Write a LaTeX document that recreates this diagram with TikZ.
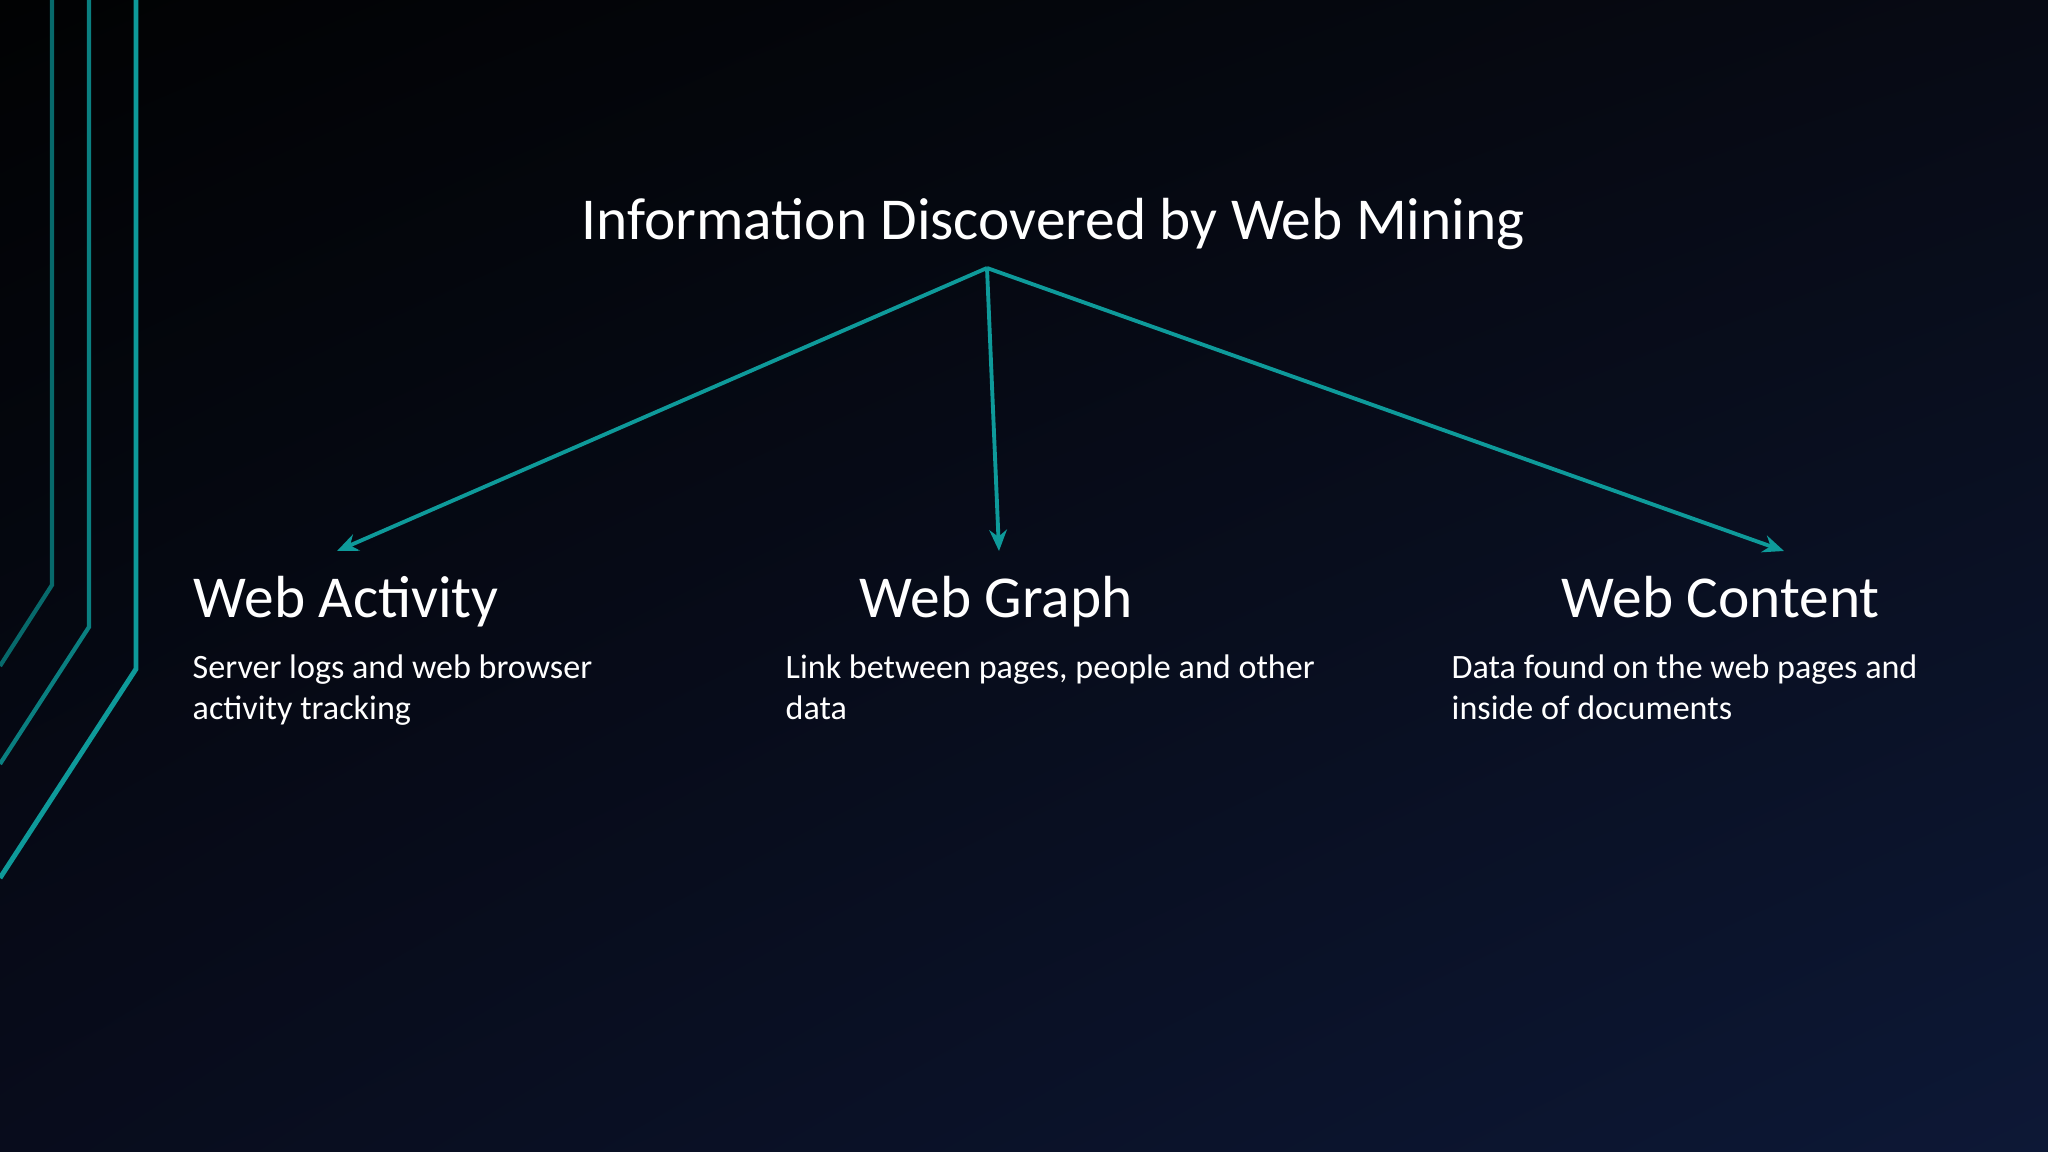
\documentclass[tikz,border=0pt]{standalone}
\usepackage{fontspec}
\setmainfont{Carlito}
\usetikzlibrary{arrows.meta,shadings}
\definecolor{teal1}{HTML}{0E9A9A}
\definecolor{teal2}{HTML}{0A7F80}
\definecolor{teal3}{HTML}{07696B}
\definecolor{bgA}{HTML}{010203}
\definecolor{bgC}{HTML}{070A14}
\definecolor{bgD}{HTML}{080C1C}
\definecolor{bgB}{HTML}{0D1836}
\tikzset{
  conn/.style={draw=teal1, line width=1.1pt, -{Stealth[length=6pt,width=5pt]}},
  head/.style={text=white, anchor=base west, font=\fontsize{16.9}{20}\selectfont, inner sep=0},
  body/.style={text=white, anchor=base west, font=\fontsize{9.7}{11.5}\selectfont, inner sep=0, align=left},
}
\begin{document}
\begin{tikzpicture}[x=0.01cm,y=-0.01cm]
\useasboundingbox (0,0) rectangle (2048,1152);
\shade[upper left=bgA, upper right=bgC, lower left=bgD, lower right=bgB] (0,0) rectangle (2048,1152);
% decorative lines
\draw[teal3, line width=1.2pt] (52,0) -- (52,585) -- (0,666);
\draw[teal2, line width=1.2pt] (89,0) -- (89,627) -- (0,764);
\draw[teal1, line width=1.4pt] (136,0) -- (136,669) -- (0,878);
% title
\node[text=white, font=\fontsize{16.9}{20}\selectfont, anchor=base, inner sep=0] (t) at (1053,240) {Information Discovered by Web Mining};
\coordinate (apex) at (987,268);
\coordinate (a1) at (337,551);
\coordinate (a2) at (999,551);
\coordinate (a3) at (1784,551);
\draw[conn] (apex) -- (a1);
\draw[conn] (apex) -- (a2);
\draw[conn] (apex) -- (a3);
\node[head] (h1) at (193,617) {Web Activity};
\node[head] (h2) at (859,617) {Web Graph};
\node[head] (h3) at (1561,617) {Web Content};
\node[body] (b1) at (192,719) {Server logs and web browser\\activity tracking};
\node[body] (b2) at (785,719) {Link between pages, people and other\\data};
\node[body] (b3) at (1451,719) {Data found on the web pages and\\inside of documents};
\end{tikzpicture}
\end{document}
